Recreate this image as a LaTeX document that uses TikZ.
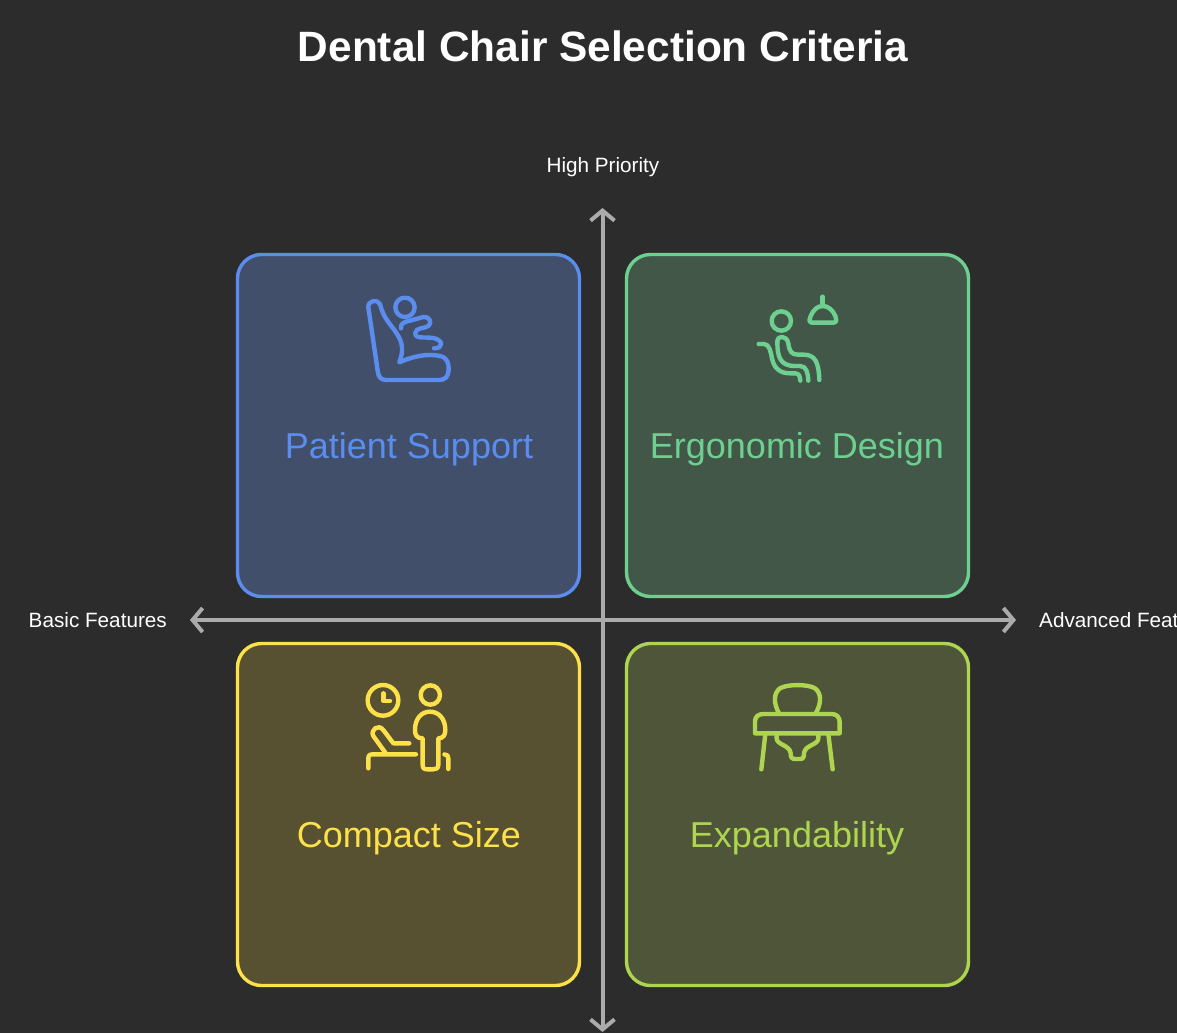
\documentclass[tikz,border=0pt]{standalone}
\usepackage{fontspec}
\setmainfont{Liberation Sans}
\usetikzlibrary{arrows.meta,backgrounds}
\definecolor{pagebg}{HTML}{2C2C2C}
\definecolor{axisgray}{HTML}{ABABAB}
\definecolor{bluept}{HTML}{5B8DEF}
\definecolor{bluefill}{HTML}{414F6B}
\definecolor{greenpt}{HTML}{6DD091}
\definecolor{greenfill}{HTML}{425747}
\definecolor{yellowpt}{HTML}{FCE14B}
\definecolor{yellowfill}{HTML}{575031}
\definecolor{limept}{HTML}{AED54F}
\definecolor{limefill}{HTML}{4F5539}
\tikzset{
  quadbox/.style={draw=#1pt,fill=#1fill,line width=3.4pt,rounded corners=24pt,minimum size=342pt,inner sep=0pt},
  quadlabel/.style={text=#1pt,font=\fontsize{36}{40}\selectfont,inner sep=0pt},
  axislabel/.style={text=white,font=\fontsize{20.7}{24}\selectfont,inner sep=0pt},
  axisline/.style={draw=axisgray,line width=4pt,{Straight Barb[length=10pt,width=24pt,line width=4pt]}-{Straight Barb[length=10pt,width=24pt,line width=4pt]}},
  iconline/.style={draw=#1pt,line width=4.4pt,line cap=round,line join=round},
}
\begin{document}
\begin{tikzpicture}[x=1pt,y=-1pt]
\useasboundingbox (0,0) rectangle (1177,1033);
\clip (0,0) rectangle (1177,1033);
\fill[pagebg] (0,0) rectangle (1177,1033);

\node[text=white,font=\fontsize{42.4}{50}\selectfont\bfseries,inner sep=0pt] (title) at (603,46) {Dental Chair Selection Criteria};

\node[quadbox=blue] (support) at (408.5,425.5) {};
\node[quadbox=green] (ergo) at (797.5,425.5) {};
\node[quadbox=yellow] (compact) at (408.5,814.5) {};
\node[quadbox=lime] (expand) at (797.5,814.5) {};

\node[quadlabel=blue] at (409,449) (supportlabel) {Patient Support};
\node[quadlabel=green] at (797,449) (ergolabel) {Ergonomic Design};
\node[quadlabel=yellow] at (409,838) (compactlabel) {Compact Size};
\node[quadlabel=lime] at (797,838) (expandlabel) {Expandability};

\coordinate (top) at (602.5,208);
\coordinate (bottom) at (602.5,1032);
\coordinate (left) at (190,620);
\coordinate (right) at (1016,620);
\draw[axisline] (bottom) -- (top);
\draw[axisline] (left) -- (right);

\node[axislabel] (high) at (603,167) {High Priority};
\node[axislabel,anchor=east] (basic) at (167,620) {Basic Features};
\node[axislabel,anchor=west] (advanced) at (1039,620) {Advanced Features};

% seat icon
\begin{scope}[shift={(340,280)},x=0.3333pt,y=-0.3333pt,iconline=blue]
\draw (195,82) circle (29);
\draw (85,82) .. controls (83,62) and (112,56) .. (120,72) .. controls (130,115) and (150,130) .. (170,160) .. controls (190,190) and (190,215) .. (178,247) .. controls (220,228) and (265,220) .. (300,228) .. controls (322,233) and (327,250) .. (326,270) .. controls (325,290) and (315,300) .. (298,300) -- (138,300) .. controls (122,300) and (115,290) .. (113,272) -- cycle;
\draw (183,145) .. controls (180,130) and (195,125) .. (210,122) -- (250,111) .. controls (268,108) and (278,128) .. (265,138) .. controls (255,146) and (228,142) .. (226,158) .. controls (224,178) and (250,170) .. (280,174) .. controls (310,180) and (312,205) .. (282,205);
\end{scope}

% dentist lamp icon
\begin{scope}[shift={(740,280)},x=0.3333pt,y=-0.3333pt,iconline=green]
\draw (124,123) circle (29);
\draw (248,50) -- (248,78);
\draw (216,128) .. controls (205,128) and (208,115) .. (212,108) .. controls (220,90) and (232,78) .. (248,78) .. controls (265,78) and (278,90) .. (286,108) .. controls (290,115) and (292,128) .. (280,128) -- cycle;
\draw (56,192) -- (72,192) .. controls (88,192) and (92,215) .. (96,235) .. controls (102,265) and (120,280) .. (150,280) -- (165,280) .. controls (178,280) and (180,290) .. (181,302);
\draw (112,185) .. controls (112,165) and (140,165) .. (145,190) .. controls (148,215) and (155,224) .. (175,224) -- (190,224) .. controls (225,224) and (236,245) .. (238,300);
\draw (112,185) .. controls (112,230) and (120,258) .. (165,258) -- (180,258) .. controls (200,258) and (204,280) .. (205,302);
\end{scope}

% compact room icon
\begin{scope}[shift={(350,670)},x=0.3333pt,y=-0.3333pt,iconline=yellow]
\draw (99,91) circle (46);
\draw (100,70) -- (100,93) -- (120,93);
\draw (241,75) circle (29);
\draw (55,295) -- (55,265) .. controls (55,255) and (60,253) .. (70,253) -- (198,253);
\draw (106,248) -- (70,198) .. controls (60,180) and (85,160) .. (100,180) -- (130,220) -- (178,220);
\draw (218,205) .. controls (200,205) and (195,195) .. (195,180) .. controls (195,145) and (215,125) .. (240,125) .. controls (265,125) and (286,145) .. (286,180) .. controls (286,195) and (280,205) .. (265,205) -- (265,285) .. controls (265,295) and (258,298) .. (250,298) -- (232,298) .. controls (222,298) and (218,295) .. (218,285) -- cycle;
\draw (283,253) .. controls (292,253) and (295,258) .. (295,265) -- (295,297);
\end{scope}

% high chair icon
\begin{scope}[shift={(740,670)},x=0.3333pt,y=-0.3333pt,iconline=lime]
\draw (118,132) .. controls (100,100) and (100,70) .. (120,55) .. controls (140,42) and (205,42) .. (225,55) .. controls (245,70) and (245,100) .. (226,132);
\draw (45,190) -- (45,155) .. controls (45,140) and (55,132) .. (70,132) -- (275,132) .. controls (290,132) and (299,142) .. (299,155) -- (299,190) -- cycle;
\draw (76,192) -- (64,298);
\draw (265,192) -- (278,298);
\draw (110,192) -- (110,205) .. controls (110,225) and (150,225) .. (152,250) .. controls (152,262) and (155,267) .. (165,267) -- (180,267) .. controls (190,267) and (192,262) .. (192,250) .. controls (194,225) and (235,225) .. (235,205) -- (235,192);
\end{scope}
\end{tikzpicture}
\end{document}
